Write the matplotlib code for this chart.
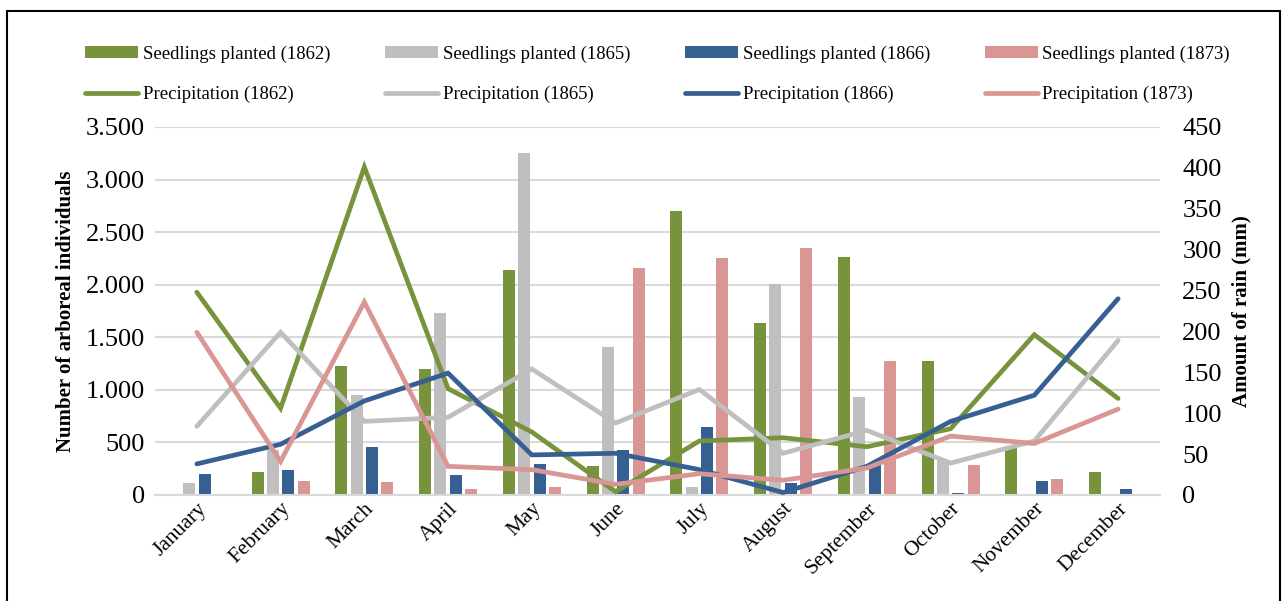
import matplotlib
matplotlib.use("Agg")
from matplotlib import pyplot as plt
from matplotlib.patches import Rectangle
import numpy as np

plt.rcParams['font.family'] = ['Liberation Serif', 'DejaVu Serif']

months = ['January', 'February', 'March', 'April', 'May', 'June', 'July',
          'August', 'September', 'October', 'November', 'December']

# seedlings planted (left axis)
seed_1862 = [0, 222, 1227, 1201, 2143, 276, 2698, 1633, 2267, 1277, 450, 222]
seed_1865 = [117, 430, 951, 1734, 3256, 1411, 79, 2007, 935, 320, 0, 0]
seed_1866 = [200, 241, 453, 187, 295, 428, 650, 111, 290, 22, 133, 57]
seed_1873 = [0, 136, 127, 55, 79, 2162, 2251, 2352, 1277, 285, 152, 0]

# precipitation in mm (right axis)
rain_1862 = [248, 106, 401, 130, 77, 4, 66, 70, 59, 81, 196, 118]
rain_1865 = [84, 199, 90, 95, 154, 88, 129, 51, 79, 39, 66, 189]
rain_1866 = [38, 62, 115, 149, 49, 51, 31, 3, 35, 90, 122, 240]
rain_1873 = [199, 41, 236, 35, 31, 13, 26, 18, 33, 72, 63, 105]

years = ['1862', '1865', '1866', '1873']
colors = ['#77933C', '#BFBFBF', '#376092', '#D99694']
seeds = [seed_1862, seed_1865, seed_1866, seed_1873]
rains = [rain_1862, rain_1865, rain_1866, rain_1873]

fig = plt.figure(figsize=(12.87, 6.01), dpi=100)
ax = fig.add_axes([0.1204, 0.1764, 0.7809, 0.6123])
ax2 = ax.twinx()

x = np.arange(len(months))
offsets = [-0.275, -0.092, 0.092, 0.275]
bars = []
for s, c, o, yr in zip(seeds, colors, offsets, years):
    b = ax.bar(x + o, s, width=0.143, color=c, zorder=2,
               label='Seedlings planted (' + yr + ')')
    bars.append(b)

lines = []
for r, c, yr in zip(rains, colors, years):
    l, = ax2.plot(x, r, color=c, linewidth=3.4, solid_capstyle='round',
                  solid_joinstyle='miter', label='Precipitation (' + yr + ')')
    lines.append(l)

ax.set_xlim(-0.5, 11.5)
ax.set_ylim(0, 3500)
ax2.set_ylim(0, 450)
ax.set_yticks(range(0, 3501, 500))
ax.set_yticklabels(['0', '500', '1.000', '1.500', '2.000', '2.500', '3.000', '3.500'])
ax2.set_yticks(range(0, 451, 50))

ax.grid(axis='y', color='#D9D9D9', linewidth=1.5, zorder=0)
ax.set_axisbelow(True)
for a in (ax, ax2):
    for sp in a.spines.values():
        sp.set_visible(False)
ax.spines['bottom'].set_visible(True)
ax.spines['bottom'].set_color('#D9D9D9')
ax.spines['bottom'].set_linewidth(1.5)

ax.tick_params(axis='y', length=0, labelsize=19, pad=7)
ax2.tick_params(axis='y', length=0, labelsize=19, pad=16)
ax.tick_params(axis='x', length=0, pad=3)
ax.set_xticks(x)
ax.set_xticklabels(months, rotation=45, ha='right', rotation_mode='anchor', fontsize=15.5)

ax.set_ylabel('Number of arboreal individuals', fontsize=15, fontweight='bold', labelpad=7)
ax2.set_ylabel('Amount of rain (mm)', fontsize=15, fontweight='bold', labelpad=7)

# legend: bars on first row, lines on second
handles = []
labels = []
for b, l in zip(bars, lines):
    handles += [b, l]
    labels += [b.get_label(), l.get_label()]
fig.legend(handles, labels, ncol=4, loc='upper left', bbox_to_anchor=(0.0605, 0.937),
           frameon=False, fontsize=13.5, handlelength=2.8, handletextpad=0.25,
           columnspacing=2.95, labelspacing=1.25, borderaxespad=0, handleheight=0.55)

# outer border
fig.patches.append(Rectangle((0.0058, -0.1), 0.9888, 1.0817, transform=fig.transFigure,
                             fill=False, edgecolor='black', linewidth=1.5))

plt.savefig('out.png', dpi=100)
